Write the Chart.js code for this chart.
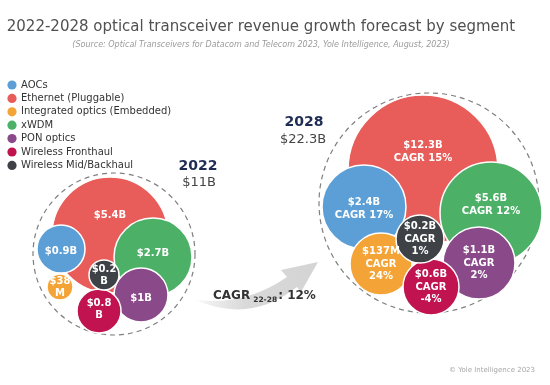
<!DOCTYPE html>
<html>
<head>
<meta charset="utf-8">
<script src="https://cdn.jsdelivr.net/npm/chart.js@4.4.0/dist/chart.umd.min.js"></script>
<style>
  html, body { margin: 0; padding: 0; background: #fff; }
  #wrap { width: 550px; height: 385px; position: relative; }
</style>
</head>
<body>
<div id="wrap"><canvas id="bubbleChart"></canvas></div>
<script>
// ---- data ----
const segments = ['AOCs', 'Ethernet (Pluggable)', 'Integrated optics (Embedded)', 'xWDM', 'PON optics', 'Wireless Fronthaul', 'Wireless Mid/Backhaul'];
const revenue2022 = [0.9, 5.4, 0.038, 2.7, 1.0, 0.8, 0.2];   // $B
const revenue2028 = [2.4, 12.3, 0.137, 5.6, 1.1, 0.6, 0.2];  // $B
const cagr = [17, 15, 24, 12, 2, -4, 1];                      // % 2022-2028
const totals = { 2022: '$11B', 2028: '$22.3B' };
const totalCagr = '12%';

// ---- layout (bubble packing, in canvas units) ----
const colors = ['#5b9fd6', '#e85c59', '#f4a436', '#4cb066', '#8a4a8a', '#c0134f', '#3e4246'];
const zOrder = [4, 6, 2, 5, 3, 1, 0];
const pos2022 = [[61, 249], [110, 235], [60, 287], [153, 257], [141, 295], [99, 311], [104, 275]];
const rad2022 = [24, 58, 13, 39, 27, 22, 15];
const pos2028 = [[364, 207], [423, 170], [381, 264], [491, 213], [479, 263], [431, 287], [420, 239]];
const rad2028 = [42, 75, 31, 51, 36, 28, 24];
const labelDy2022 = [2, -20, 0, -4, 3, -2, 0];
const labelDy2028 = [2, -18, 0, -8, 0, 0, 0];
const wrap2022 = [false, false, true, false, false, true, true];
const wrap2028 = [false, false, true, false, true, true, true];

const FONT = '"DejaVu Sans", sans-serif';

function fmtMoney(v) {
    if (v < 0.5 && v * 1000 % 100 !== 0) return '$' + Math.round(v * 1000) + 'M';
    return '$' + v + 'B';
}

function label2022(i) {
    const s = fmtMoney(revenue2022[i]);
    if (!wrap2022[i]) return [s];
    return [s.slice(0, -1), s.slice(-1)];
}

function label2028(i) {
    const s = fmtMoney(revenue2028[i]);
    if (!wrap2028[i]) return [s, 'CAGR ' + cagr[i] + '%'];
    return [s, 'CAGR', cagr[i] + '%'];
}

const datasets = segments.map((name, i) => ({
    label: name,
    data: [
        { x: pos2022[i][0], y: pos2022[i][1], r: rad2022[i] },
        { x: pos2028[i][0], y: pos2028[i][1], r: rad2028[i] }
    ],
    backgroundColor: colors[i],
    borderColor: '#ffffff',
    borderWidth: 1.5,
    hoverBorderWidth: 1.5,
    order: zOrder[i],
    clip: false
}));

const decorPlugin = {
    id: 'decor',
    beforeDatasetsDraw(chart) {
        const { ctx, scales: { x, y } } = chart;
        ctx.save();
        // dashed outline around each year cluster
        ctx.setLineDash([5, 4]);
        ctx.strokeStyle = '#7f7f7f';
        ctx.lineWidth = 1.2;
        [[114, 254, 81], [429, 203, 110]].forEach(c => {
            ctx.beginPath();
            ctx.arc(x.getPixelForValue(c[0]), y.getPixelForValue(c[1]), c[2], 0, Math.PI * 2);
            ctx.stroke();
        });
        ctx.setLineDash([]);

        // growth arrow
        const grad = ctx.createLinearGradient(197, 0, 318, 0);
        grad.addColorStop(0, 'rgba(215,215,215,0.2)');
        grad.addColorStop(0.4, '#d9d9d9');
        grad.addColorStop(1, '#d4d4d4');
        ctx.fillStyle = grad;
        ctx.beginPath();
        ctx.moveTo(196, 300);
        ctx.quadraticCurveTo(250, 324, 297, 287);
        ctx.lineTo(301, 292);
        ctx.lineTo(318, 262);
        ctx.lineTo(281, 270);
        ctx.lineTo(287, 277);
        ctx.quadraticCurveTo(245, 306, 196, 300);
        ctx.closePath();
        ctx.fill();
        ctx.restore();
    },
    afterDatasetsDraw(chart) {
        const { ctx, scales: { x, y } } = chart;
        ctx.save();
        ctx.fillStyle = '#ffffff';
        ctx.textAlign = 'center';
        ctx.textBaseline = 'middle';
        ctx.font = '600 10px ' + FONT;
        segments.forEach((s, i) => {
            const l1 = label2022(i);
            const cx1 = x.getPixelForValue(pos2022[i][0]);
            const cy1 = y.getPixelForValue(pos2022[i][1]) + labelDy2022[i];
            l1.forEach((t, k) => ctx.fillText(t, cx1, cy1 + (k - (l1.length - 1) / 2) * 12));

            const l2 = label2028(i);
            const cx2 = x.getPixelForValue(pos2028[i][0]);
            const cy2 = y.getPixelForValue(pos2028[i][1]) + labelDy2028[i];
            l2.forEach((t, k) => ctx.fillText(t, cx2, cy2 + (k - (l2.length - 1) / 2) * 12.5));
        });
        ctx.restore();
    },
    afterDraw(chart) {
        const { ctx } = chart;
        ctx.save();
        ctx.textBaseline = 'middle';

        // title + source
        ctx.textAlign = 'center';
        ctx.fillStyle = '#505050';
        ctx.font = '15px ' + FONT;
        ctx.fillText('2022-2028 optical transceiver revenue growth forecast by segment', 261, 27);
        ctx.fillStyle = '#9a9a9a';
        ctx.font = 'italic 8px ' + FONT;
        ctx.fillText('(Source: Optical Transceivers for Datacom and Telecom 2023, Yole Intelligence, August, 2023)', 261, 45);

        // legend
        ctx.textAlign = 'left';
        ctx.font = '10px ' + FONT;
        segments.forEach((s, i) => {
            const ly = 85 + i * 13.4;
            ctx.fillStyle = colors[i];
            ctx.beginPath();
            ctx.arc(12, ly, 4.6, 0, Math.PI * 2);
            ctx.fill();
            ctx.fillStyle = '#333333';
            ctx.fillText(s, 21, ly);
        });

        // year headers
        ctx.textAlign = 'center';
        ctx.fillStyle = '#1f2d55';
        ctx.font = 'bold 14px ' + FONT;
        ctx.fillText('2022', 198, 166);
        ctx.fillText('2028', 304, 122);
        ctx.fillStyle = '#444444';
        ctx.font = '13px ' + FONT;
        ctx.fillText(totals[2022], 199, 183);
        ctx.fillText(totals[2028], 303, 140);

        // overall CAGR
        ctx.textAlign = 'left';
        ctx.fillStyle = '#333333';
        ctx.font = 'bold 12px ' + FONT;
        let tx = 213;
        ctx.fillText('CAGR', tx, 296);
        tx += ctx.measureText('CAGR').width + 3;
        ctx.font = 'bold 7.5px ' + FONT;
        ctx.fillText('22-28', tx, 300);
        tx += ctx.measureText('22-28').width + 1;
        ctx.font = 'bold 12px ' + FONT;
        ctx.fillText(': ' + totalCagr, tx, 296);

        // footer
        ctx.textAlign = 'right';
        ctx.fillStyle = '#a8a8a8';
        ctx.font = '7px ' + FONT;
        ctx.fillText('\u00A9 Yole Intelligence 2023', 535, 370);
        ctx.restore();
    }
};

const chart = new Chart(document.getElementById('bubbleChart').getContext('2d'), {
    type: 'bubble',
    data: { datasets: datasets },
    options: {
        responsive: true,
        maintainAspectRatio: false,
        animation: false,
        layout: { padding: 0, autoPadding: false },
        scales: {
            x: { type: 'linear', min: 0, max: 550, display: false, offset: false },
            y: { type: 'linear', min: 0, max: 385, reverse: true, display: false, offset: false }
        },
        plugins: {
            legend: { display: false },
            tooltip: { enabled: false }
        }
    },
    plugins: [decorPlugin]
});
</script>
</body>
</html>
